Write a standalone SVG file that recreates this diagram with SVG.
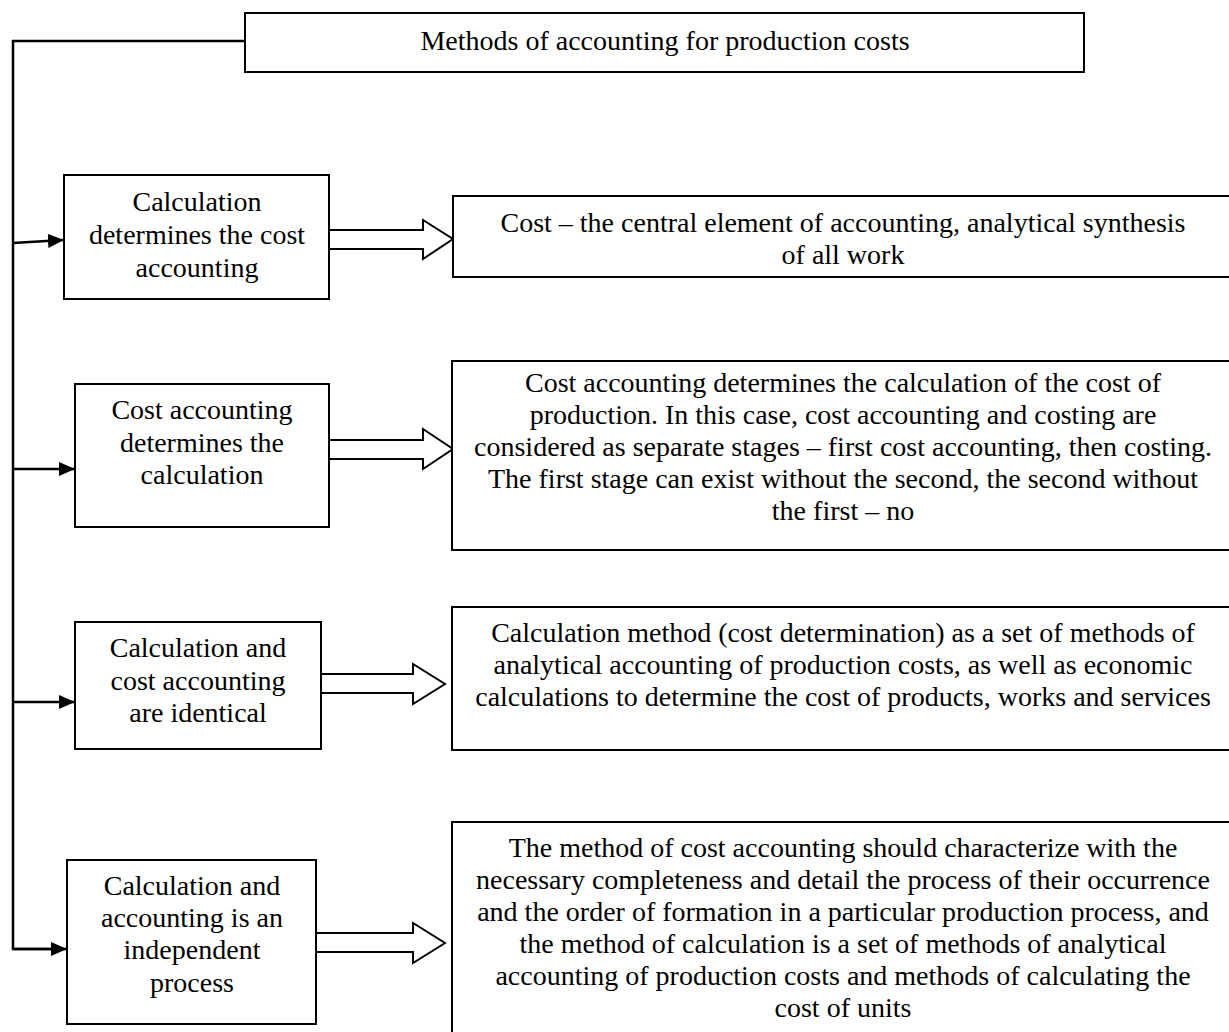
<svg xmlns="http://www.w3.org/2000/svg" width="1229" height="1032" viewBox="0 0 1229 1032">
<style>
.box{fill:#fff;stroke:#000;stroke-width:2}
.t{font-size:28px;fill:#000;text-anchor:middle}
.ln{fill:none;stroke:#000;stroke-width:2.5}
.ha{fill:#fff;stroke:#000;stroke-width:2;stroke-linejoin:miter}
</style>
<defs>
<marker id="ah" markerWidth="16" markerHeight="14" refX="15" refY="7" orient="auto" markerUnits="userSpaceOnUse">
<path d="M0,0 L16,7 L0,14 Z" fill="#000"/>
</marker>
</defs>
<rect width="1229" height="1032" fill="#fff"/>
<g id="connectors">
<polyline class="ln" points="245,41 13,41 13,949 52,949"/>
<line class="ln" x1="13" y1="243" x2="63" y2="240" marker-end="url(#ah)"/>
<line class="ln" x1="13" y1="469" x2="74" y2="469" marker-end="url(#ah)"/>
<line class="ln" x1="13" y1="702" x2="74" y2="702" marker-end="url(#ah)"/>
<line class="ln" x1="13" y1="949" x2="66" y2="949" marker-end="url(#ah)"/>
<path class="ha" d="M329,230 L423,230 L423,220 L453,239 L423,259 L423,249 L329,249"/>
<path class="ha" d="M329,440 L423,440 L423,429 L453,449 L423,469 L423,459 L329,459"/>
<path class="ha" d="M321,674 L413,674 L413,664 L445,684 L413,704 L413,693 L321,693"/>
<path class="ha" d="M316,933 L413,933 L413,923 L445,943 L413,963 L413,952 L316,952"/>
</g>
<g font-family="Liberation Serif, DejaVu Serif, serif">
<g id="title">
<rect class="box" x="245" y="13" width="839" height="59"/>
<text class="t" x="665" y="50">Methods of accounting for production costs</text>
</g>
<g id="left1">
<rect class="box" x="64" y="175" width="265" height="124"/>
<text class="t" x="197" y="211">Calculation</text>
<text class="t" x="197" y="244">determines the cost</text>
<text class="t" x="197" y="277">accounting</text>
</g>
<g id="left2">
<rect class="box" x="75" y="384" width="254" height="143"/>
<text class="t" x="202" y="419">Cost accounting</text>
<text class="t" x="202" y="452">determines the</text>
<text class="t" x="202" y="484">calculation</text>
</g>
<g id="left3">
<rect class="box" x="75" y="622" width="246" height="127"/>
<text class="t" x="198" y="657">Calculation and</text>
<text class="t" x="198" y="690">cost accounting</text>
<text class="t" x="198" y="722">are identical</text>
</g>
<g id="left4">
<rect class="box" x="67" y="860" width="249" height="164"/>
<text class="t" x="192" y="895">Calculation and</text>
<text class="t" x="192" y="927">accounting is an</text>
<text class="t" x="192" y="959">independent</text>
<text class="t" x="192" y="992">process</text>
</g>
<g id="right1">
<rect class="box" x="453" y="196" width="790" height="81"/>
<text class="t" x="843" y="232">Cost – the central element of accounting, analytical synthesis</text>
<text class="t" x="843" y="264">of all work</text>
</g>
<g id="right2">
<rect class="box" x="452" y="361" width="790" height="189"/>
<text class="t" x="843" y="392">Cost accounting determines the calculation of the cost of</text>
<text class="t" x="843" y="424">production. In this case, cost accounting and costing are</text>
<text class="t" x="843" y="456">considered as separate stages – first cost accounting, then costing.</text>
<text class="t" x="843" y="488">The first stage can exist without the second, the second without</text>
<text class="t" x="843" y="520">the first – no</text>
</g>
<g id="right3">
<rect class="box" x="452" y="607" width="790" height="143"/>
<text class="t" x="843" y="642">Calculation method (cost determination) as a set of methods of</text>
<text class="t" x="843" y="674">analytical accounting of production costs, as well as economic</text>
<text class="t" x="843" y="706">calculations to determine the cost of products, works and services</text>
</g>
<g id="right4">
<rect class="box" x="452" y="822" width="790" height="230"/>
<text class="t" x="843" y="857">The method of cost accounting should characterize with the</text>
<text class="t" x="843" y="889">necessary completeness and detail the process of their occurrence</text>
<text class="t" x="843" y="921">and the order of formation in a particular production process, and</text>
<text class="t" x="843" y="953">the method of calculation is a set of methods of analytical</text>
<text class="t" x="843" y="985">accounting of production costs and methods of calculating the</text>
<text class="t" x="843" y="1017">cost of units</text>
</g>
</g>
</svg>
